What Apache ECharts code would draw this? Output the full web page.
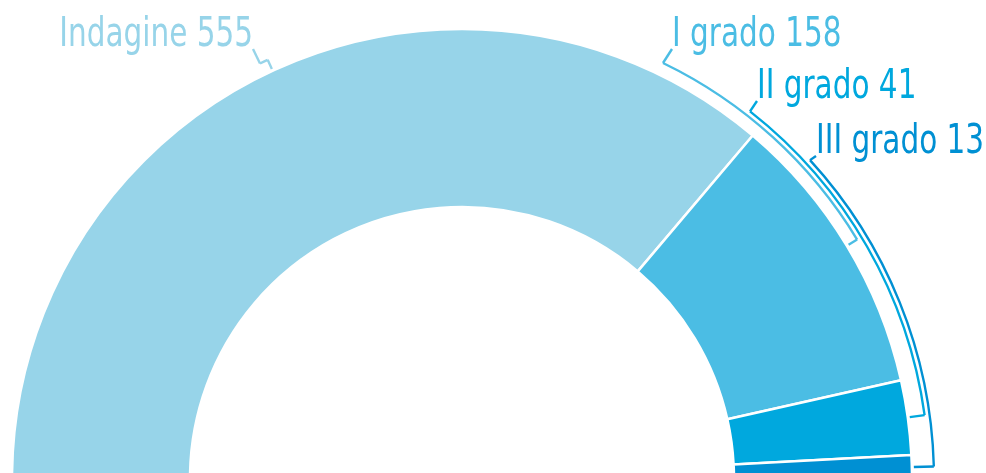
<!DOCTYPE html>
<html><head><meta charset="utf-8">
<script src="https://cdn.jsdelivr.net/npm/echarts@6/dist/echarts.min.js"></script>
<style>html,body{margin:0;padding:0;background:#fff}#c{width:986px;height:473px}</style>
</head><body><div id="c"></div>
<script>
const categories = ['Indagine', 'I grado', 'II grado', 'III grado'];
const values = [555, 158, 41, 13];
const colors = ['#97d4e9', '#4bbde4', '#00a8de', '#0090d3'];

// label / leader styling (positions are layout, not data)
const labelAnchors = [[253, 49, 'right'], [672, 49, 'left'], [757, 101, 'left'], [816, 156, 'left']];
const arcStartX = [260, 663, 750, 810];
const leaderR = [462, 462, 467, 472];
const CX = 462, CY = 479, R0 = 272, R1 = 450, TICK_R = 452;
const FONT = '"Liberation Sans Narrow", "DejaVu Sans Condensed", sans-serif';
const FS = 41;
const TEXT_SCALE_X = 0.8;

const total = values.reduce((a, b) => a + b, 0);

const pieData = categories.map((n, i) => ({
  name: n, value: values[i],
  itemStyle: { color: colors[i] }
}));
pieData.push({
  name: '', value: total,
  itemStyle: { color: 'rgba(0,0,0,0)', borderWidth: 0 },
  emphasis: { disabled: true }, silent: true
});

// labels and leader lines derived from slice mid angles
const graphics = [];
let cum = 0;
values.forEach((v, i) => {
  const mid = Math.PI - (cum + v / 2) / total * Math.PI;
  cum += v;
  const r = leaderR[i];
  const a0 = Math.acos((arcStartX[i] - CX) / r);
  const x0 = CX + r * Math.cos(a0), y0 = CY - r * Math.sin(a0);
  const st = { stroke: colors[i], lineWidth: 2.4, fill: 'none' };
  graphics.push({ type: 'polyline', silent: true, shape: { points: [[labelAnchors[i][0], labelAnchors[i][1]], [x0, y0]] }, style: st });
  graphics.push({ type: 'arc', silent: true, shape: { cx: CX, cy: CY, r: r, startAngle: -a0, endAngle: -mid, clockwise: true }, style: st });
  graphics.push({ type: 'polyline', silent: true, shape: { points: [
    [CX + r * Math.cos(mid), CY - r * Math.sin(mid)],
    [CX + TICK_R * Math.cos(mid), CY - TICK_R * Math.sin(mid)]] }, style: st });
  graphics.push({
    type: 'text', silent: true,
    x: labelAnchors[i][0], y: labelAnchors[i][1] - 14, scaleX: TEXT_SCALE_X,
    style: {
      text: categories[i] + ' ' + values[i],
      fill: colors[i], fontSize: FS, fontFamily: FONT,
      textAlign: labelAnchors[i][2], textVerticalAlign: 'middle'
    }
  });
});

const chart = echarts.init(document.getElementById('c'));
chart.setOption({
  animation: false,
  graphic: graphics,
  series: [{
    type: 'pie',
    center: [CX, CY],
    radius: [R0, R1],
    startAngle: 180,
    clockwise: true,
    itemStyle: { borderColor: '#ffffff', borderWidth: 2.5 },
    emphasis: { scale: false },
    label: { show: false },
    labelLine: { show: false },
    data: pieData
  }]
});
</script></body></html>
